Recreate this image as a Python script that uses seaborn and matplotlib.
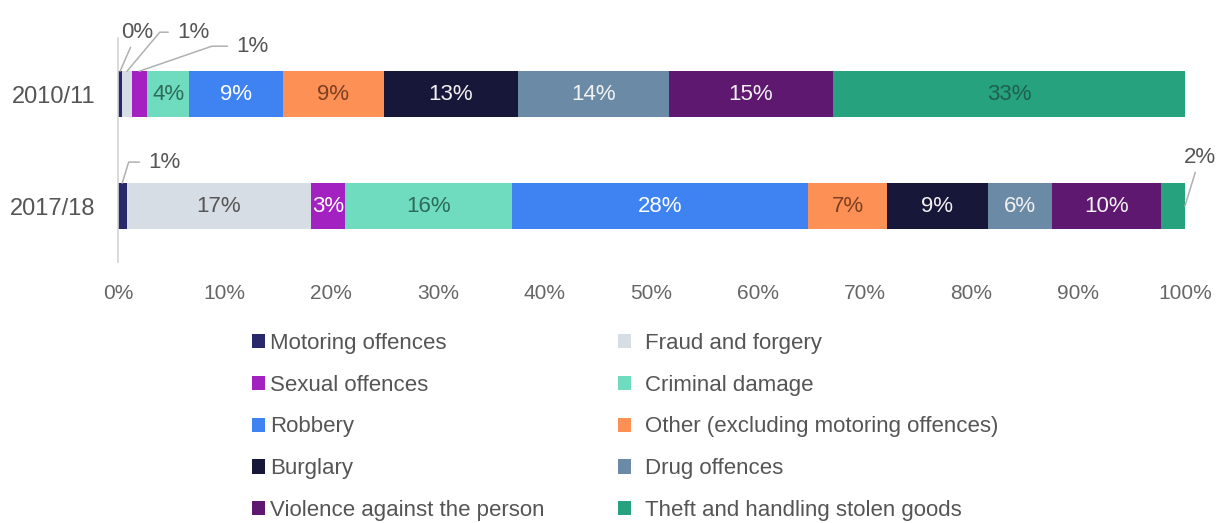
import numpy as np
import matplotlib
matplotlib.use("Agg")
import matplotlib.pyplot as plt
import seaborn as sns
from matplotlib.patches import Patch
from matplotlib.ticker import FuncFormatter

years = ["2010/11", "2017/18"]
offences = ["Motoring offences", "Fraud and forgery", "Sexual offences",
            "Criminal damage", "Robbery", "Other (excluding motoring offences)",
            "Burglary", "Drug offences", "Violence against the person",
            "Theft and handling stolen goods"]
share_2010 = [0.4, 0.9, 1.4, 4.0, 8.8, 9.4, 12.6, 14.1, 15.4, 33.0]
share_2017 = [0.8, 17.3, 3.2, 15.6, 27.8, 7.4, 9.4, 6.0, 10.3, 2.2]
x_ticks = [0, 10, 20, 30, 40, 50, 60, 70, 80, 90, 100]

colors = ["#29286a", "#d6dde5", "#a321c0", "#6fdcbf", "#3f82f2",
          "#fd9155", "#17173a", "#6a8aa5", "#5e1870", "#27a27f"]
label_colors = ["white", "#555555", "white", "#2d6b5a", "white",
                "#7d3f22", "#f2f2f2", "#f2f2f2", "#f2f2f2", "#1f5f4e"]

# small segments get a label outside with a leader line:
# (year index, offence index): (dx px, dy px, angle of leader or None, anchor)
outside = {
    (0, 0): (17, 39, None, "top"),
    (0, 1): (50, 39, 50, "top"),
    (0, 2): (97, 25, 19, "top"),
    (1, 0): (26, 21, 73, "top"),
    (1, 9): (15, 49, None, "end"),
}

sns.set_theme(style="white")
plt.rcParams['font.family'] = ['Liberation Sans', 'DejaVu Sans']

shares = np.array([share_2010, share_2017])
cum = shares.cumsum(axis=1)
bar_h = 0.41

fig = plt.figure(figsize=(12.25, 5.23), dpi=100)
ax = fig.add_axes([0.0963, 0.499, 0.8710, 0.428])

# stacked bars: draw cumulative totals from the outermost segment inwards
for i in range(len(offences) - 1, -1, -1):
    sns.barplot(x=cum[:, i], y=years, orient="h", color=colors[i],
                width=bar_h, saturation=1, linewidth=0, ax=ax)

for j in range(len(years)):
    for i in range(len(offences)):
        v = shares[j, i]
        mid = cum[j, i] - v / 2
        txt = f"{v:.0f}%"
        if (j, i) in outside:
            dx, dy, ang, anchor = outside[(j, i)]
            if anchor == "end":
                xy = (cum[j, i], j)
            else:
                xy = (mid, j - bar_h / 2)
            if ang is None:
                ax.annotate(txt, xy=xy, xytext=(dx, dy), textcoords="offset pixels",
                            ha="center", va="center", fontsize=16, color="#555555",
                            arrowprops=dict(arrowstyle="-", color="#b0b0b0", lw=1.1,
                                            shrinkA=1, shrinkB=0))
            else:
                ax.annotate(txt, xy=xy, xytext=(dx, dy), textcoords="offset pixels",
                            ha="left", va="center", fontsize=16, color="#555555",
                            arrowprops=dict(arrowstyle="-", color="#b0b0b0", lw=1.1,
                                            shrinkA=4, shrinkB=0, relpos=(0, 0.5),
                                            connectionstyle=f"angle,angleA=0,angleB={ang},rad=0"))
        else:
            ax.text(mid, j, txt, ha="center", va="center", fontsize=16,
                    color=label_colors[i])

ax.set_xlim(0, 100)
ax.set_ylim(1.5, -0.5)
ax.set_xticks(x_ticks)
ax.xaxis.set_major_formatter(FuncFormatter(lambda x, p: f"{x:.0f}%"))
ax.tick_params(axis="x", length=0, pad=16, labelsize=15, colors="#666666")
ax.tick_params(axis="y", length=0, pad=16, labelsize=17, colors="#555555")
ax.set_xlabel("")
ax.set_ylabel("")
for s in ["top", "right", "bottom"]:
    ax.spines[s].set_visible(False)
ax.spines["left"].set_color("#d4d4d4")
ax.spines["left"].set_linewidth(1.2)
ax.set_facecolor("white")

handles = [Patch(facecolor=c, edgecolor="none") for c in colors]
common = dict(loc="upper left", frameon=False, fontsize=16, borderpad=0,
              borderaxespad=0, handlelength=0.6, handleheight=0.6,
              labelspacing=0.94, labelcolor="#555555")
fig.legend([handles[k] for k in range(0, 10, 2)], [offences[k] for k in range(0, 10, 2)],
           bbox_to_anchor=(0.2057, 0.364), handletextpad=0.2, **common)
fig.legend([handles[k] for k in range(1, 10, 2)], [offences[k] for k in range(1, 10, 2)],
           bbox_to_anchor=(0.5045, 0.364), handletextpad=0.6, **common)

fig.savefig("out.png", dpi=100, facecolor="white")
